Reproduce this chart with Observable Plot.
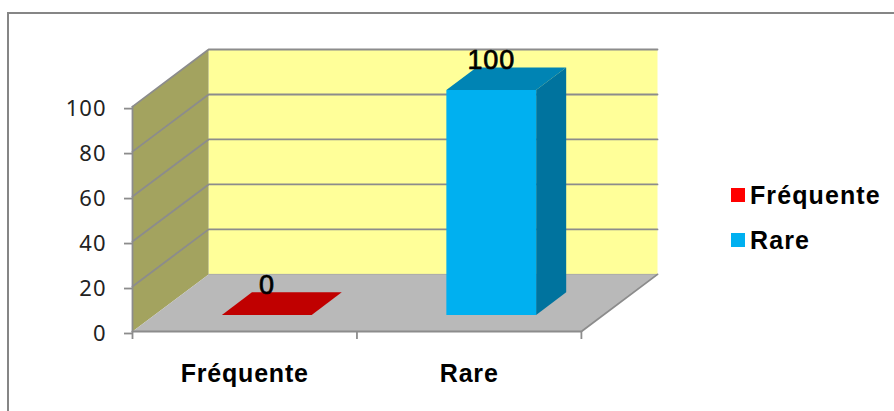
<!DOCTYPE html>
<html lang="fr">
<head>
<meta charset="utf-8">
<script src="https://cdn.jsdelivr.net/npm/d3@7"></script>
<script src="https://cdn.jsdelivr.net/npm/@observablehq/plot@0.6"></script>
<style>
html,body{margin:0;padding:0;background:#fff;overflow:hidden}
#chart{position:relative;width:894px;height:411px}
#frame{position:absolute;left:7px;top:12px;width:887px;height:399px;border:2px solid #868686;border-bottom:none;border-right:none;box-sizing:border-box}
#chart svg{position:absolute;left:0;top:0;background:transparent;overflow:visible}
#chart svg g[font-weight="bold"] text{letter-spacing:.8px}
#chart svg g[font-size="27"] text{letter-spacing:.8px}
#chart svg g[font-size="22"] text{letter-spacing:1px}
.lg{position:absolute;font:bold 25px "Liberation Sans",sans-serif;letter-spacing:1.1px;color:#000;white-space:nowrap;line-height:28px;left:750px}
.sw{position:absolute;left:731px;width:14px;height:14px}
</style>
</head>
<body>
<div id="chart"><div id="frame"></div></div>
<script>
// Data
const categories = ["Fréquente", "Rare"];
const values = [0, 100];
const yTicks = [0, 20, 40, 60, 80, 100];
const frontColors = ["#FF0000", "#00B0F0"];
const topColors = ["#C00000", "#0084B4"];
const sideColors = ["#900000", "#00739E"];

// Oblique 3D model: depth d runs 0 (front) to 1 (back)
const shearX = 0.339;
const shearY = 25.4;
const px = (u, d) => u + shearX * d;
const py = (v, d) => v + shearY * d;
const poly = (pts) => pts.map(([u, v, d]) => ({x: px(u, d), y: py(v, d)}));
const face = (pts, fill) => Plot.line(poly(pts), {x: "x", y: "y", fill, stroke: "none", curve: "linear"});
const edge = (pts, w = 1.8, c = "#8C8C8C") => Plot.line(poly(pts), {x: "x", y: "y", stroke: c, strokeWidth: w, curve: "linear"});

const barLeft = 0.3, barRight = 0.7, dFront = 0.29, dBack = 0.685;
const n = categories.length;

const marks = [
  // walls and floor
  face([[0,0,1],[n,0,1],[n,100,1],[0,100,1]], "#FFFF99"),
  face([[0,0,0],[0,0,1],[0,100,1],[0,100,0]], "#A3A35F"),
  face([[0,0,0],[n,0,0],[n,0,1],[0,0,1]], "#B9B9B9"),
  // gridlines
  ...yTicks.filter(t => t > 0).map(t => edge([[0,t,0],[0,t,1],[n,t,1]])),
  edge([[0,0,1],[n,0,1]], 1, "#A8A8A8"),
  edge([[0,0,0],[0,100,0]]),
  edge([[0,0,0],[n,0,0],[n,0,1]]),
  // bars
  ...categories.flatMap((c, i) => {
    const a = i + barLeft, b = i + barRight, v = values[i];
    const out = [face([[a,v,dFront],[b,v,dFront],[b,v,dBack],[a,v,dBack]], topColors[i])];
    if (v > 0) {
      out.push(face([[b,0,dFront],[b,0,dBack],[b,v,dBack],[b,v,dFront]], sideColors[i]));
      out.push(face([[a,0,dFront],[b,0,dFront],[b,v,dFront],[a,v,dFront]], frontColors[i]));
    }
    return out;
  }),
  // value labels
  Plot.text(categories.map((c, i) => ({x: px(i + 0.5, dFront), y: py(values[i], dFront), t: String(values[i])})), {
    x: "x", y: "y", text: "t", dy: -29.5, fontSize: 27, fontFamily: "Liberation Sans", fill: "#000", stroke: "#000", strokeWidth: 0.7
  }),
  // category labels
  Plot.text(categories.map((c, i) => ({x: i + 0.5, y: 0, t: c})), {
    x: "x", y: "y", text: "t", dy: 42, fontSize: 25, fontWeight: "bold", fontFamily: "Liberation Sans", fill: "#000"
  }),
  // axes
  Plot.axisX({ticks: d3.range(n + 1), tickFormat: () => "", tickSize: 8, label: null, stroke: "#8C8C8C", strokeWidth: 1.8}),
  Plot.axisY({ticks: yTicks, tickSize: 8, tickPadding: 18, label: null, fontSize: 22, fontFamily: "Noto Sans", fill: "#222", stroke: "#8C8C8C", strokeWidth: 1.8, dy: 2})
];

const chart = Plot.plot({
  width: 894, height: 411,
  marginLeft: 132, marginRight: 237, marginTop: 49, marginBottom: 80,
  x: {domain: [0, n + shearX], axis: null},
  y: {domain: [0, 100 + shearY], axis: null},
  style: {background: "transparent"},
  marks
});
const root = document.getElementById("chart");
root.appendChild(chart);

[195, 240].forEach((cy, i) => {
  const s = document.createElement("div");
  s.className = "sw"; s.style.top = (cy - 7) + "px"; s.style.background = frontColors[i];
  root.appendChild(s);
  const l = document.createElement("div");
  l.className = "lg"; l.style.top = (cy - 14) + "px"; l.textContent = categories[i];
  root.appendChild(l);
});
</script>
</body>
</html>
